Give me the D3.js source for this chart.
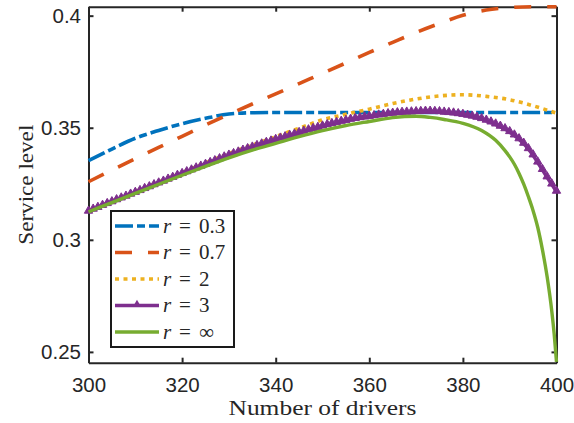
<!DOCTYPE html>
<html><head><meta charset="utf-8">
<script src="https://cdn.jsdelivr.net/npm/d3@7/dist/d3.min.js"></script>
<style>body{margin:0;background:#fff}</style>
</head><body>
<svg id="chart" width="574" height="423"></svg>
<script>
// ---- data ----
const xTicks = [300, 320, 340, 360, 380, 400];
const yTicks = [0.25, 0.3, 0.35, 0.4];
const yTickLabels = ["0.25", "0.3", "0.35", "0.4"];
const legendLabels = ["0.3", "0.7", "2", "3", "\u221E"];

const driversCoarse = [300,305,310,315,320,325,330,335,340,345,350,355,360,365,370,375,380,385,390,395,400];
const blueVals   = [0.3353,0.3405,0.3453,0.3488,0.3518,0.3542,0.3561,0.3567,0.3568,0.3568,0.3568,0.3568,0.3568,0.3568,0.3568,0.3568,0.3568,0.3568,0.3568,0.3568,0.3568];
const orangeVals = [0.3259,0.3311,0.3362,0.3412,0.3462,0.3512,0.3560,0.3606,0.3651,0.3697,0.3743,0.3789,0.3836,0.3881,0.3925,0.3965,0.4002,0.4025,0.4036,0.4040,0.4040];
const yellowVals = [0.3130,0.3173,0.3215,0.3258,0.3300,0.3343,0.3385,0.3423,0.3460,0.3498,0.3535,0.3560,0.3583,0.3608,0.3628,0.3642,0.3647,0.3640,0.3625,0.3598,0.3565];

const driversFull = d3.range(300, 401);
const purpleVals = [
 0.3125,0.3134,0.3142,0.3151,0.3159,0.3167,0.3176,0.3184,0.3192,0.3201,
 0.3209,0.3217,0.3226,0.3234,0.3243,0.3251,0.3259,0.3268,0.3276,0.3285,
 0.3293,0.3301,0.3309,0.3318,0.3326,0.3334,0.3342,0.3350,0.3359,0.3367,
 0.3375,0.3382,0.3389,0.3397,0.3404,0.3411,0.3418,0.3425,0.3432,0.3438,
 0.3445,0.3451,0.3457,0.3463,0.3469,0.3476,0.3482,0.3488,0.3494,0.3499,
 0.3505,0.3511,0.3516,0.3521,0.3526,0.3530,0.3535,0.3539,0.3542,0.3545,
 0.3548,0.3551,0.3554,0.3557,0.3560,0.3562,0.3564,0.3566,0.3567,0.3568,
 0.3569,0.3570,0.3571,0.3571,0.3570,0.3569,0.3567,0.3565,0.3563,0.3560,
 0.3557,0.3553,0.3549,0.3544,0.3538,0.3531,0.3523,0.3514,0.3504,0.3493,
 0.3480,0.3465,0.3448,0.3428,0.3404,0.3376,0.3344,0.3311,0.3278,0.3246,
 0.3214];

const driversGreen = [300,305,310,315,320,325,330,335,340,345,350,355,360,365,370,373,376,380,384,387,389,390,391,392,393,394,395,396,397,398,399,399.5,400];
const greenVals    = [0.3125,0.3166,0.3207,0.3248,0.3288,0.3328,0.3366,0.3400,0.3430,0.3460,0.3487,0.3510,0.3528,0.3545,0.3551,0.3546,0.3537,0.3520,0.3488,0.3444,0.3398,0.3370,0.3337,0.3296,0.3248,0.3192,0.3130,0.3055,0.2955,0.2835,0.2680,0.2580,0.2455];

// ---- layout ----
const svg = d3.select("#chart");
svg.append("rect").attr("width",574).attr("height",423).attr("fill","#fff");
const L = 88.5, R = 556.5, T = 6.7, B = 362.7;
const x = d3.scaleLinear().domain([300, 400]).range([L, R]);
const y = d3.scaleLinear().domain([0.24518, 0.4040]).range([B, T]);
const axisColor = "#262626";
const tickFont = "'Liberation Sans', Arial, Helvetica, sans-serif";
const serif = "'Liberation Serif', 'Times New Roman', serif";

function styleAxis(g) {
  g.select(".domain").attr("stroke", axisColor).attr("stroke-width", 2);
  g.selectAll(".tick line").attr("stroke", axisColor).attr("stroke-width", 2);
  g.selectAll(".tick text").attr("fill", axisColor).attr("font-family", tickFont).attr("font-size", 20.5);
}

const gx = svg.append("g").attr("transform", `translate(0,${B})`)
  .call(d3.axisBottom(x).tickValues(xTicks).tickSizeInner(-5).tickSizeOuter(0).tickPadding(15).tickFormat(d3.format("d")));
styleAxis(gx);
const gy = svg.append("g").attr("transform", `translate(${L},0)`)
  .call(d3.axisLeft(y).tickValues(yTicks).tickSizeInner(-5).tickSizeOuter(0).tickPadding(7.5).tickFormat((d,i)=>yTickLabels[i]));
styleAxis(gy);
const gt = svg.append("g").attr("transform", `translate(0,${T})`)
  .call(d3.axisTop(x).tickValues(xTicks).tickSizeInner(-5).tickSizeOuter(0).tickFormat(""));
styleAxis(gt);
const gr = svg.append("g").attr("transform", `translate(${R},0)`)
  .call(d3.axisRight(y).tickValues(yTicks).tickSizeInner(-5).tickSizeOuter(0).tickFormat(""));
styleAxis(gr);

// axis labels
svg.append("text").attr("x", (L+R)/2).attr("y", 415).attr("text-anchor","middle")
  .attr("font-family", serif).attr("font-size", 21).attr("fill", axisColor)
  .attr("textLength", 188).attr("lengthAdjust","spacingAndGlyphs").text("Number of drivers");
svg.append("text").attr("transform", `translate(33,${(T+B)/2}) rotate(-90)`).attr("text-anchor","middle")
  .attr("font-family", serif).attr("font-size", 21).attr("fill", axisColor)
  .attr("textLength", 120).attr("lengthAdjust","spacingAndGlyphs").text("Service level");

// ---- series ----
const styles = [
  {color:"#0072BD", dash:"18,4,8,4", w:3.6},
  {color:"#D95319", dash:"17,16", w:3.6},
  {color:"#EDB120", dash:"4,4.5", w:3.6},
  {color:"#7E2F8E", dash:null, w:3.4},
  {color:"#77AC30", dash:null, w:3.4}
];
const series = [
  d3.zip(driversCoarse, blueVals),
  d3.zip(driversCoarse, orangeVals),
  d3.zip(driversCoarse, yellowVals),
  d3.zip(driversFull, purpleVals),
  d3.zip(driversGreen, greenVals)
];
const line = d3.line().x(d => x(d[0])).y(d => y(d[1])).curve(d3.curveMonotoneX);
const tri = d3.symbol().type(d3.symbolTriangle).size(30);

series.forEach((s, i) => {
  const st = styles[i];
  svg.append("path").datum(s).attr("d", line).attr("fill","none")
    .attr("stroke", st.color).attr("stroke-width", st.w)
    .attr("stroke-dasharray", st.dash).attr("stroke-linejoin","round");
  if (i === 3) {
    svg.append("g").selectAll("path").data(s).join("path")
      .attr("transform", d => `translate(${x(d[0])},${y(d[1])-1})`)
      .attr("d", tri).attr("fill", st.color).attr("stroke", st.color).attr("stroke-width", 1);
  }
});

// ---- legend ----
const lg = svg.append("g");
lg.append("rect").attr("x",111).attr("y",211).attr("width",123).attr("height",136)
  .attr("fill","#fff").attr("stroke","#1a1a1a").attr("stroke-width",2);
const rowY = [226, 252.5, 279, 305.5, 332];
legendLabels.forEach((lab, i) => {
  const st = styles[i];
  const yy = rowY[i];
  lg.append("line").attr("x1",115).attr("x2",159).attr("y1",yy).attr("y2",yy)
    .attr("stroke", st.color).attr("stroke-width", st.w).attr("stroke-dasharray", st.dash);
  if (i === 3) {
    lg.append("path").attr("transform", `translate(137,${yy-1})`).attr("d", tri).attr("fill", st.color);
  }
  const t = lg.append("text").attr("y", yy+6.5).attr("font-family", serif).attr("font-size", 21).attr("fill", axisColor);
  t.append("tspan").attr("x",163).attr("font-style","italic").text("r");
  t.append("tspan").attr("x",179).text("=");
  t.append("tspan").attr("x",199).text(lab);
});
</script>
</body></html>
